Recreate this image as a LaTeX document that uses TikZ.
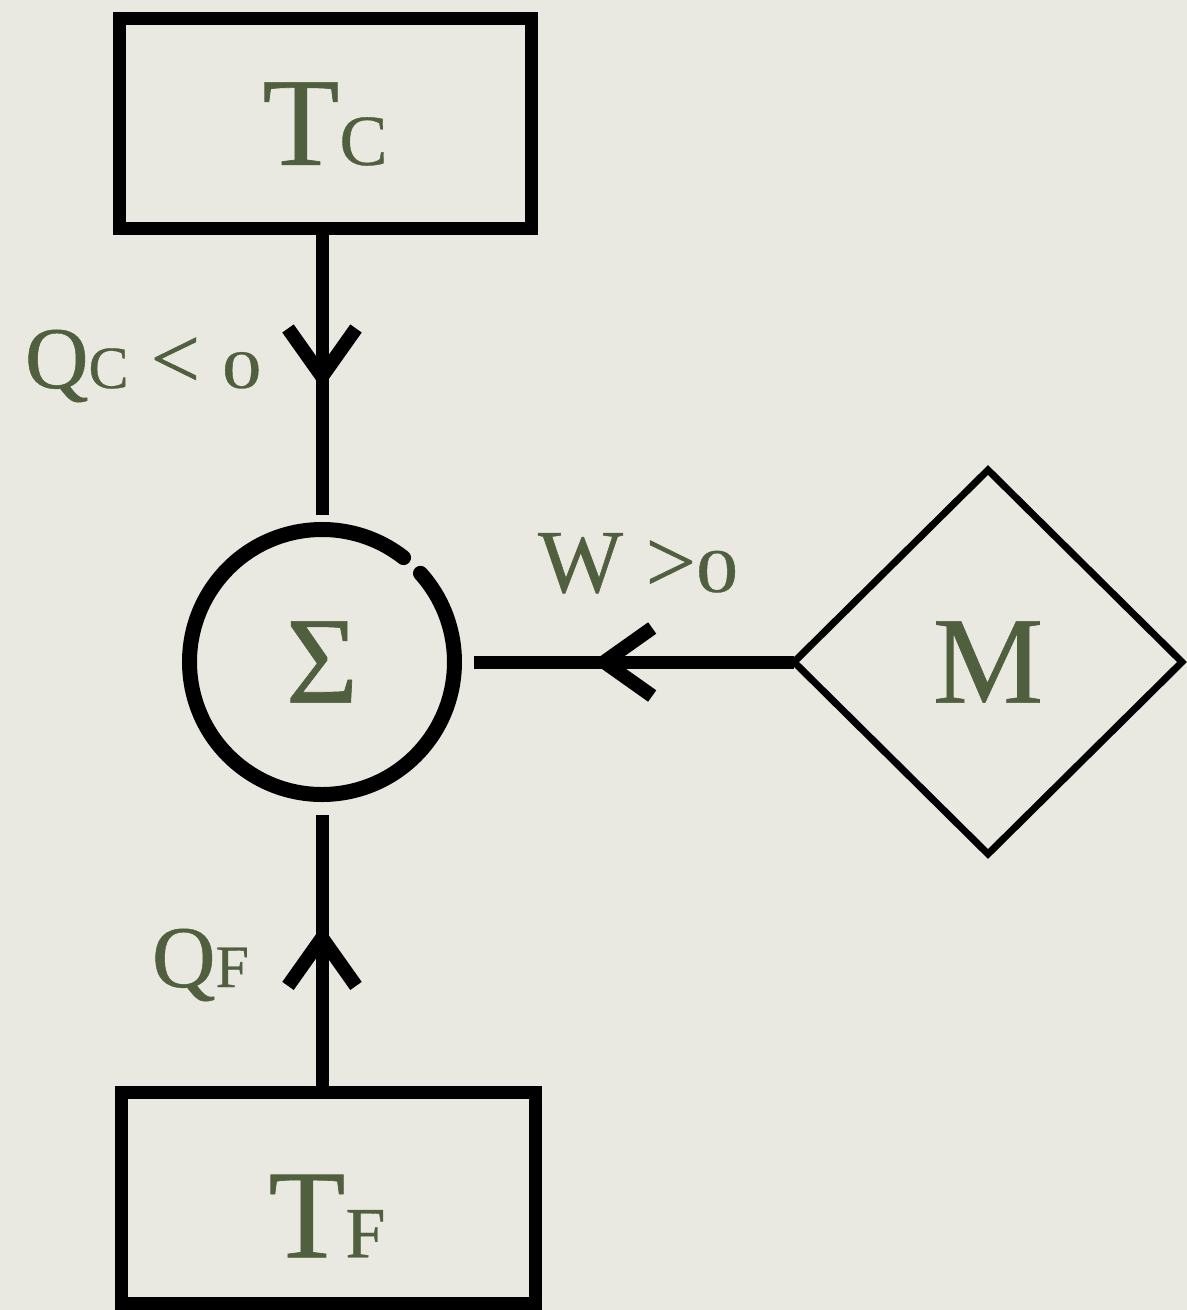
\documentclass[tikz,border=0pt]{standalone}
\usepackage{fontspec}
\setmainfont{Liberation Serif}[FakeBold=0.5]
\usetikzlibrary{shapes.geometric,arrows.meta,decorations.markings}
\definecolor{bg}{RGB}{233,232,225}
\definecolor{ink}{RGB}{80,95,62}
\newcommand{\fsz}[1]{\fontsize{#1}{#1}\selectfont}
\begin{document}
\begin{tikzpicture}[x=0.5pt,y=-0.5pt,
  box/.style={draw=black,line width=6.5pt,rectangle,inner sep=0pt,outer sep=0pt},
  txt/.style={text=ink,inner sep=0pt,outer sep=0pt},
  shaft/.style={draw=black,line width=6.5pt},
  midarrow/.style={postaction={decorate},decoration={markings,mark=at position #1 with {\arrow{Straight Barb[length=24pt,width=34pt,line width=7pt]}}}}]
\fill[bg] (0,0) rectangle (1187,1310);
% boxes
\node[box,txt,minimum width=206pt,minimum height=105pt] (Tc) at (325,124) {\fsz{63}T\fsz{36}C};
\node[box,minimum width=207pt,minimum height=105.5pt] (TF) at (328,1197.5) {};
\node[txt] (TFt) at (327,1216) {\fsz{63}T\fsz{36}F};
\node[circle,minimum size=140pt,txt] (sig) at (322,662) {\fsz{62}Σ};
\draw[line width=7.5pt,line cap=round] (sig.center) ++(52:66.25pt) arc[start angle=52,end angle=402,radius=66.25pt];
\node[diamond,draw=black,line width=3.5pt,minimum width=194pt,minimum height=192pt,txt] (M) at (988,662) {\fsz{62}M};
% connectors
\draw[shaft,midarrow=0.558] (sig.north |- Tc.south) -- ([yshift=3.5pt]sig.north);
\draw[shaft,midarrow=0.6] (sig.south |- TF.north) -- ([yshift=-6.5pt]sig.south);
\draw[shaft,midarrow=0.631] (M.west) -- ([xshift=6pt]sig.east);
% labels
\node[txt,anchor=base west] (qc) at (25,388) {\fsz{44}Q\fsz{30}C\fsz{44} < \fsz{27}\scalebox{1.45}[1]{0}};
\node[txt,anchor=base west] (w) at (538,592) {\fsz{45}W >\fsz{31}\scalebox{1.35}[1]{0}};
\node[txt,anchor=base west] (qf) at (152,987) {\fsz{44}Q\fsz{30}F};
\end{tikzpicture}
\end{document}
